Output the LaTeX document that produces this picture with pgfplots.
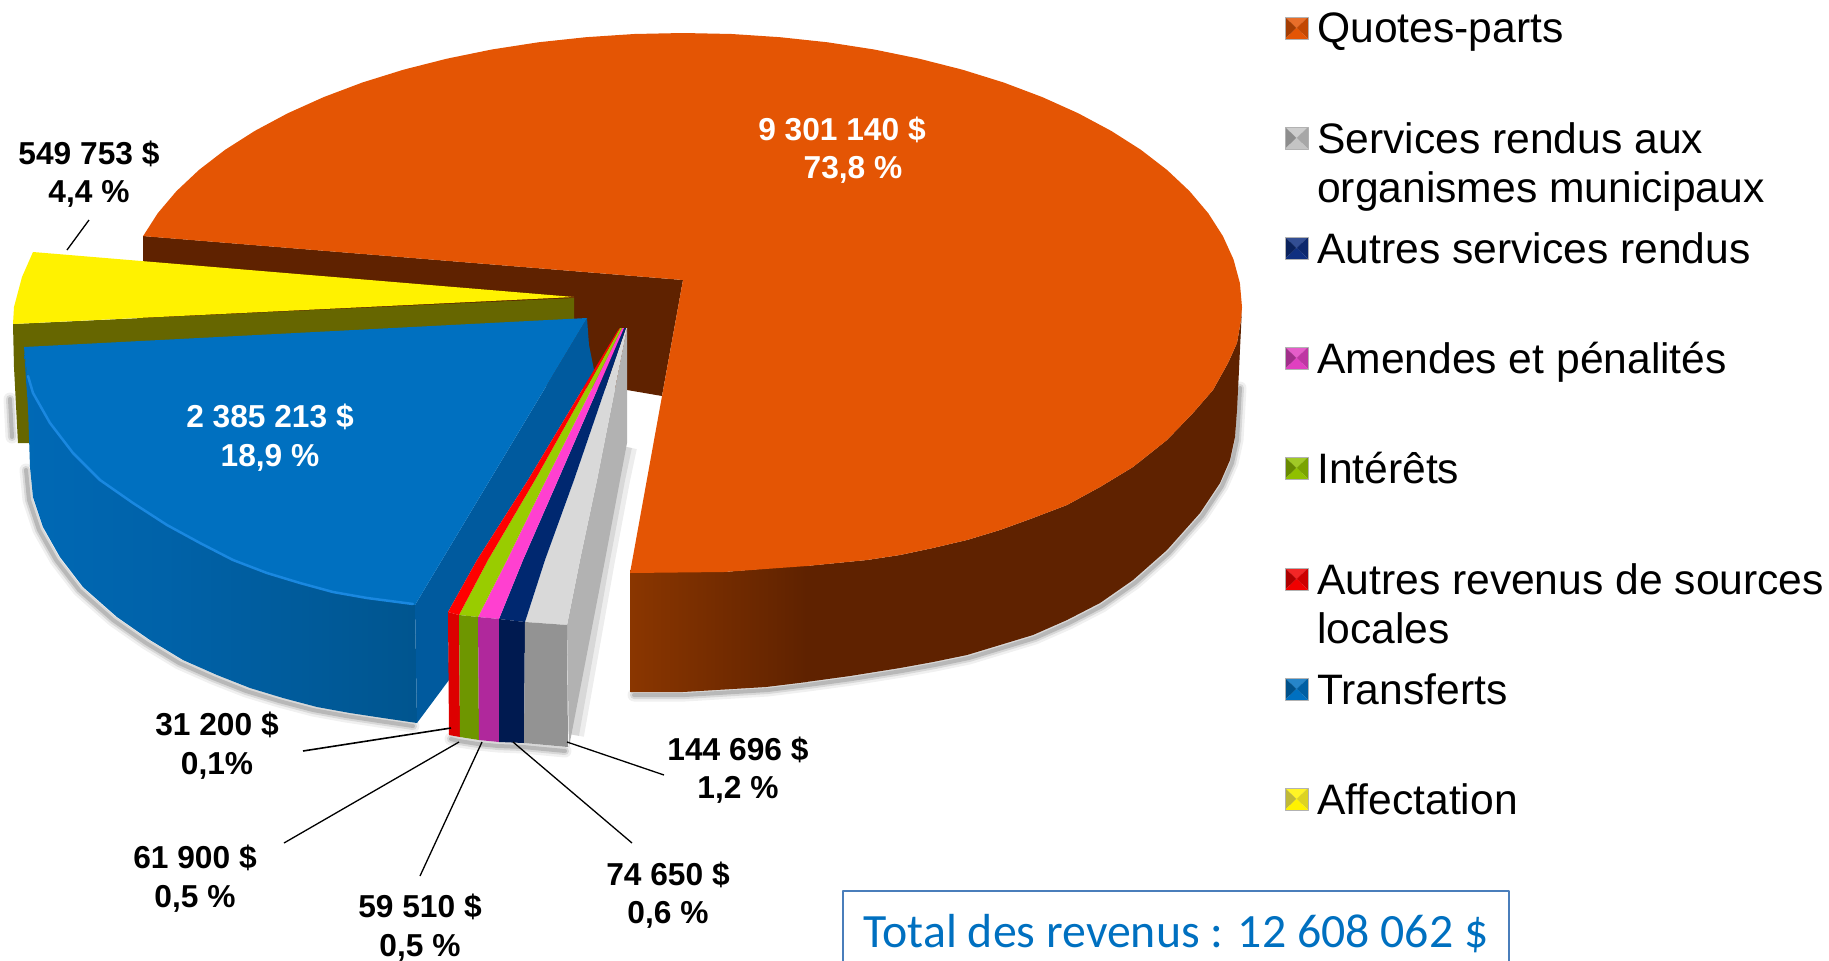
\documentclass[border=0pt]{standalone}
\usepackage{pgfplots}
\pgfplotsset{compat=1.18}
\usepackage{fontspec}
\setmainfont{Liberation Sans}
\newfontfamily\carlito{Carlito}
\definecolor{org}{HTML}{E45504}
\definecolor{orgd}{HTML}{5F2200}
\definecolor{orgm}{HTML}{8A3600}
\definecolor{blu}{HTML}{0070C0}
\definecolor{blud}{HTML}{005A9E}
\definecolor{bluw}{HTML}{0069B6}
\definecolor{bluv}{HTML}{00558F}
\definecolor{olv}{HTML}{666600}
\definecolor{lgray}{HTML}{C4C4C4}
\definecolor{lnavy}{HTML}{0F2F80}
\definecolor{lpink}{HTML}{E040C0}
\definecolor{lgreen}{HTML}{90C000}
\definecolor{lred}{HTML}{F00000}
\newcommand\legmark[4]{% ytop, ycen, ybot, base colour
\addplot[fill=#4!85!white,draw=none] coordinates {(1285,#1)(1308,#1)(1296.5,#2)} --cycle;
\addplot[fill=#4!72!black,draw=none] coordinates {(1285,#1)(1285,#3)(1296.5,#2)} --cycle;
\addplot[fill=#4!85!black,draw=none] coordinates {(1308,#1)(1308,#3)(1296.5,#2)} --cycle;
\addplot[fill=#4,draw=none] coordinates {(1285,#3)(1308,#3)(1296.5,#2)} --cycle;
\addplot[draw=gray!60,line width=0.7pt] coordinates {(1285,#1)(1308,#1)(1308,#3)(1285,#3)} --cycle;
}
\newcommand\shadow[3]{%
\addplot[draw=black,opacity=0.06,line width=13pt,line cap=round,line join=round,xshift=#1,yshift=#2] coordinates {#3};
\addplot[draw=black,opacity=0.10,line width=8pt,line cap=round,line join=round,xshift=#1,yshift=#2] coordinates {#3};
\addplot[draw=black,opacity=0.15,line width=4pt,line cap=round,line join=round,xshift=#1,yshift=#2] coordinates {#3};
}
\begin{document}
\begin{tikzpicture}
\useasboundingbox (0,0) rectangle (1829pt,961pt);
\begin{axis}[at={(0,0)},anchor=south west,scale only axis,width=1829pt,height=961pt,
 xmin=0,xmax=1829,ymin=0,ymax=961,y dir=reverse,axis lines=none,clip=true,no markers,
 every axis plot/.append style={line join=round}]
% shadows
\shadow{2pt}{-3pt}{(1238,385)(1235,437)(1230,460)(1220,483)(1200,513)(1167,550)(1133,580)(1100,603)(1067,620)(1033,635)(1000,645)(967,655)(933,662)(900,668)(850,676)(806,682)(766,687)(683,692)(632,692)}
\shadow{-6pt}{-1pt}{(16,398)(18,436)}
\shadow{-4pt}{-3pt}{(30,467)(33,497)(43,527)(60,557)(83,587)(117,617)(150,640)(183,660)(217,675)(250,688)(283,698)(317,707)(350,713)(383,718)(417,723)}
\shadow{-1pt}{-4pt}{(452,735)(460,737)(479,740)(499,742)(524,743)(566,747)}
\addplot[draw=black,opacity=0.07,line width=20pt] coordinates {(627,447)(620,480)(605,560)(574,735)};
\addplot[draw=black,opacity=0.09,line width=10pt] coordinates {(627,447)(620,480)(605,560)(574,735)};
% orange wall
\addplot[shade,left color=orgm,right color=orgd,draw=none] coordinates {(630,570)(724,572)(807,565)(807,682)(766,687)(683,692)(630,692)} --cycle;
\addplot[fill=orgd,draw=none] coordinates {(806,566)(867,560)(900,555)(933,548)(967,540)(1000,530)(1033,518)(1067,505)(1100,487)(1133,467)(1167,440)(1193,413)(1213,390)(1228,363)(1237,343)(1241,320)(1242,307)(1239,370)(1237,410)(1235,437)(1230,460)(1220,483)(1200,513)(1167,550)(1133,580)(1100,603)(1067,620)(1033,635)(1000,645)(967,655)(933,662)(900,668)(850,676)(806,682)} --cycle;
% notch wall
\addplot[fill=orgd,draw=none] coordinates {(143,236)(683,280)(662,396)(627,390)(574,388)(143,350)} --cycle;
% orange top
\addplot[fill=org,draw=none] coordinates {(683,280)(143.1,236.1)(157.7,213.3)(176.4,191.2)(198.9,170)(225.1,149.8)(254.8,130.9)(287.7,113.3)(323.7,97.1)(362.4,82.5)(403.5,69.7)(446.8,58.7)(491.8,49.5)(538.3,42.3)(586,37.2)(634.3,34)(683,33)(731.7,34)(780,37.2)(827.7,42.3)(874.2,49.5)(919.2,58.7)(962.5,69.7)(1003.6,82.5)(1042.3,97.1)(1078.3,113.3)(1111.2,130.9)(1140.9,149.8)(1167.1,170)(1189.6,191.2)(1208.3,213.3)(1222.9,236.1)(1233.5,259.4)(1239.9,283.1)(1242,307)(1241,320)(1237,343)(1228,363)(1213,390)(1193,413)(1167,440)(1133,467)(1100,487)(1067,505)(1033,518)(1000,530)(967,540)(933,548)(900,555)(867,560)(807,566)(724,572)(630,573)} --cycle;
% yellow
\addplot[fill=olv,draw=none] coordinates {(13,324)(574,298)(574,340)(30,443)(18,443)(14,367)} --cycle;
\addplot[fill=yellow,draw=none] coordinates {(33,252)(574,297)(13,324)(14,307)(22,277)} --cycle;
% blue
\addplot[shade,left color=bluw,right color=bluv,draw=none] coordinates {(24,347)(26,380)(28,407)(30,467)(33,497)(43,527)(60,557)(83,587)(117,617)(150,640)(183,660)(217,675)(250,688)(283,698)(317,707)(350,713)(383,718)(417,723)(415,605)(367,598)(333,592)(300,583)(267,573)(233,560)(200,543)(167,525)(133,503)(100,480)(73,453)(50,423)(33,393)(27,373)} --cycle;
\addplot[fill=blud,draw=none] coordinates {(587,318)(589,345)(594,370)(528,480)(477,560)(448,612)(449,680)(417,723)(415,605)} --cycle;
\addplot[fill=blu,draw=none] coordinates {(587,318)(24,347)(27,373)(33,393)(50,423)(73,453)(100,480)(133,503)(167,525)(200,543)(233,560)(267,573)(300,583)(333,592)(367,598)(415,605)} --cycle;
\addplot[draw={rgb,255:red,26;green,136;blue,224},line width=2.5pt,line cap=round] coordinates {(28,376)(33,393)(50,423)(73,453)(100,480)(133,503)(167,525)(200,543)(233,560)(267,573)(300,583)(333,592)(367,598)(413,604)};
% small slices: tops
\addplot[fill=gray!60,draw=none] coordinates {(627,328)(627,443)(620,480)(605,560)(569,747)(567,625)(580,560)(597,480)} --cycle;
\addplot[fill=gray!30,draw=none] coordinates {(626,328)(627,328)(597,480)(580,560)(567,625)(525,622)(545,560)(574,480)} --cycle;
\addplot[fill={rgb,255:red,0;green,40;blue,112},draw=none] coordinates {(624,328)(626,328)(574,480)(545,560)(525,622)(499,619)(523,560)(558,480)} --cycle;
\addplot[fill={rgb,255:red,255;green,64;blue,208},draw=none] coordinates {(622,328)(624,328)(558,480)(523,560)(499,619)(478,617)(507,560)(546,480)} --cycle;
\addplot[fill={rgb,255:red,153;green,204;blue,0},draw=none] coordinates {(620,328)(622,328)(546,480)(507,560)(478,617)(459,615)(488,560)(535,480)} --cycle;
\addplot[fill=red,draw=none] coordinates {(618,330)(620,328)(535,480)(488,560)(459,615)(448,612)(477,560)(528,480)} --cycle;
% small slices: walls
\addplot[fill={rgb,255:red,221;green,0;blue,0},draw=none] coordinates {(448,612)(459,615)(460,737)(449,735)} --cycle;
\addplot[fill={rgb,255:red,110;green,150;blue,0},draw=none] coordinates {(459,615)(478,617)(479,740)(460,737)} --cycle;
\addplot[fill={rgb,255:red,176;green,40;blue,156},draw=none] coordinates {(478,617)(499,619)(499,742)(479,740)} --cycle;
\addplot[fill={rgb,255:red,0;green,26;blue,80},draw=none] coordinates {(499,619)(525,622)(524,743)(499,742)} --cycle;
\addplot[fill=gray!85!white,draw=none] coordinates {(525,622)(567,625)(568,747)(524,743)} --cycle;
% leaders
\addplot[draw=black,line width=1.3pt] coordinates {(89,220)(67,250)};
\addplot[draw=black,line width=1.6pt] coordinates {(303,751)(451,728)};
\addplot[draw=black,line width=1.3pt] coordinates {(284,843)(459,742)};
\addplot[draw=black,line width=1.3pt] coordinates {(420,876)(482,742)};
\addplot[draw=black,line width=1.3pt] coordinates {(632,843)(513,742)};
\addplot[draw=black,line width=1.3pt] coordinates {(664,775)(567,742)};
% total box
\addplot[draw={rgb,255:red,74;green,126;blue,187},line width=2.2pt] coordinates {(843,970)(843,891)(1509,891)(1509,970)};
% legend markers
\legmark{17}{28}{39}{org}
\legmark{127}{138}{149}{lgray}
\legmark{237}{248}{259}{lnavy}
\legmark{347}{358}{369}{lpink}
\legmark{457}{468}{479}{lgreen}
\legmark{568}{579}{590}{lred}
\legmark{678}{689}{700}{blu}
\legmark{788}{799}{810}{yellow}
% texts
\tikzset{leg/.style={font=\fontsize{42.6}{42.6}\selectfont,anchor=west,inner sep=0pt,text height=31pt,text depth=0pt}}
\node[leg] at (axis cs:1317,27) {Quotes-parts};
\node[leg] at (axis cs:1317,138) {Services rendus aux};
\node[leg] at (axis cs:1317,187) {organismes municipaux};
\node[leg] at (axis cs:1317,248) {Autres services rendus};
\node[leg] at (axis cs:1317,358) {Amendes et pénalités};
\node[leg] at (axis cs:1317,468) {Intérêts};
\node[leg] at (axis cs:1317,579) {Autres revenus de sources};
\node[leg] at (axis cs:1317,628) {locales};
\node[leg] at (axis cs:1317,689) {Transferts};
\node[leg] at (axis cs:1317,799) {Affectation};
\node[font=\fontsize{47.8}{47.8}\selectfont\carlito,text={rgb,255:red,0;green,112;blue,192}] at (axis cs:1176,934) {Total des revenus : 12 608 062 \$};
\tikzset{lab/.style={font=\fontsize{31.7}{31.7}\selectfont\bfseries,inner sep=0pt,text height=23pt,text depth=0pt}}
\node[lab] at (axis cs:89,153) {549 753 \$};
\node[lab] at (axis cs:89,191) {4,4 \%};
\node[lab,white] at (axis cs:842,129) {9 301 140 \$};
\node[lab,white] at (axis cs:853,167) {73,8 \%};
\node[lab,white] at (axis cs:270,416) {2 385 213 \$};
\node[lab,white] at (axis cs:270,455) {18,9 \%};
\node[lab] at (axis cs:217,724) {31 200 \$};
\node[lab] at (axis cs:217,763) {0,1\%};
\node[lab] at (axis cs:195,857) {61 900 \$};
\node[lab] at (axis cs:195,896) {0,5 \%};
\node[lab] at (axis cs:420,906) {59 510 \$};
\node[lab] at (axis cs:420,945) {0,5 \%};
\node[lab] at (axis cs:668,874) {74 650 \$};
\node[lab] at (axis cs:668,912) {0,6 \%};
\node[lab] at (axis cs:738,749) {144 696 \$};
\node[lab] at (axis cs:738,787) {1,2 \%};
\end{axis}
\end{tikzpicture}
\end{document}
